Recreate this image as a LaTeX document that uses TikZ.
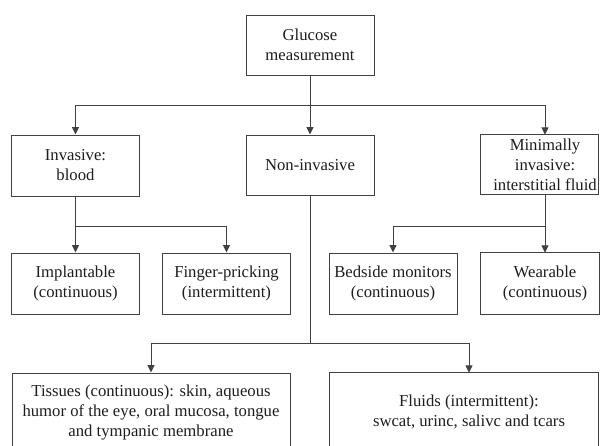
\documentclass[tikz,border=0pt]{standalone}
\usepackage{fontspec}
\setmainfont{Liberation Serif}
\usetikzlibrary{arrows.meta}
\definecolor{ln}{RGB}{65,65,65}
\definecolor{tx}{RGB}{30,30,30}
\begin{document}
\begin{tikzpicture}[x=1pt,y=-1pt,
  lbl/.style={align=center, inner sep=0pt, text=tx, font=\fontsize{16.7}{20}\selectfont},
  box/.style={lbl, draw=ln, line width=1pt, minimum width=128pt, minimum height=60pt},
  hid/.style={lbl, minimum width=128pt},
  boxline/.style={draw=ln, line width=1pt},
  conn/.style={draw=ln, line width=1pt},
  arr/.style={conn, -{Triangle[length=7.5pt,width=7pt]}}]
\useasboundingbox (0,0) rectangle (600,445);
\clip (0,0) rectangle (600,445);
\fill[white] (0,0) rectangle (600,445);

\node[box] (glu) at (310,45) {Glucose\\measurement};
\node[box, minimum height=61pt] (inv) at (75.5,165.5) {Invasive:\\blood};
\node[box] (non) at (310,165) {Non-invasive};
\node[hid, minimum height=59pt] (min) at (545,164.5) {Minimally\\invasive:\\interstitial fluid};
\draw[boxline] (min.north west) rectangle ([xshift=-11pt]min.south east);

\node[box, minimum height=61pt] (imp) at (75.5,283.5) {Implantable\\(continuous)};
\node[box, minimum height=61pt] (fin) at (226.5,283.5) {Finger-pricking\\(intermittent)};
\node[box, minimum height=61pt] (bed) at (393,283.5) {Bedside monitors\\(continuous)};
\node[hid, minimum height=61pt] (wea) at (545,283.5) {Wearable\\(continuous)};
\draw[boxline] (wea.north west) rectangle ([xshift=-10pt]wea.south east);

\node[box, minimum width=278pt, minimum height=80pt] (tis) at (151,413) {Tissues (continuous): skin, aqueous\\humor of the eye, oral mucosa, tongue\\and tympanic membrane};
\node[hid, minimum width=278pt, minimum height=78pt] (flu) at (469,412) {Fluids (intermittent):\\swcat, urinc, salivc and tcars};
\draw[boxline] (flu.north west) rectangle ([xshift=-10pt]flu.south east);

\draw[arr] (glu) -- (non);
\draw[conn] (glu.south) -- ++(0,30) coordinate (j1);
\draw[arr] (j1) -| (inv.north);
\draw[arr] (j1) -| (min.north);

\draw[conn] (inv.south) -- ++(0,30) coordinate (j2);
\draw[arr] (j2) -- (imp.north);
\draw[arr] (j2) -| (fin.north);

\draw[conn] (min.south) -- ++(0,32) coordinate (j3);
\draw[arr] (j3) -- (wea.north);
\draw[arr] (j3) -| (bed.north);

\draw[conn] (non.south) -- ++(0,148) coordinate (j4);
\draw[arr] (j4) -| (tis.north);
\draw[arr] (j4) -| (flu.north);
\end{tikzpicture}
\end{document}
